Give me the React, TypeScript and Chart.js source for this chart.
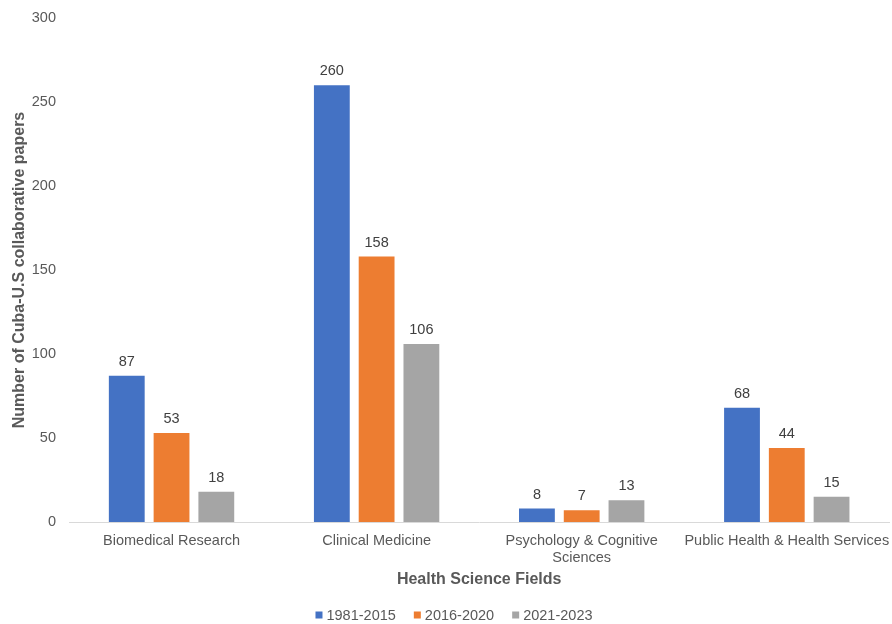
import React, { useEffect, useRef } from "react";
import { Chart, registerables } from "chart.js";

Chart.register(...registerables);

const categories: (string | string[])[] = [
  "Biomedical Research",
  "Clinical Medicine",
  ["Psychology & Cognitive", "Sciences"],
  "Public Health & Health Services",
];
const series1981_2015 = [87, 260, 8, 68];
const series2016_2020 = [53, 158, 7, 44];
const series2021_2023 = [18, 106, 13, 15];
const seriesNames = ["1981-2015", "2016-2020", "2021-2023"];
const seriesColors = ["#4472C4", "#ED7D31", "#A5A5A5"];
const yTicks = [0, 50, 100, 150, 200, 250, 300];

const FONT = "'Liberation Sans', Arial, sans-serif";
const FS = 14.5;

const valueLabels = {
  id: "valueLabels",
  afterDatasetsDraw(chart: any) {
    const ctx = chart.ctx;
    ctx.save();
    ctx.font = `${FS}px ${FONT}`;
    ctx.fillStyle = "#404040";
    ctx.textAlign = "center";
    ctx.textBaseline = "alphabetic";
    chart.data.datasets.forEach((ds: any, i: number) => {
      const meta = chart.getDatasetMeta(i);
      meta.data.forEach((el: any, j: number) => {
        ctx.fillText(String(ds.data[j]), el.x, el.y - 10);
      });
    });
    ctx.restore();
  },
};

const bottomLegend = {
  id: "bottomLegend",
  afterDraw(chart: any) {
    const ctx = chart.ctx;
    ctx.save();
    ctx.font = `${FS}px ${FONT}`;
    ctx.textBaseline = "middle";
    ctx.textAlign = "left";
    const box = 7;
    const gapBoxText = 4;
    const gapItems = 18;
    const items = chart.data.datasets.map((ds: any) => ({
      label: ds.label,
      color: ds.backgroundColor,
      w: box + gapBoxText + ctx.measureText(ds.label).width,
    }));
    const total =
      items.reduce((s: number, it: any) => s + it.w, 0) + gapItems * (items.length - 1);
    let x = 454 - total / 2;
    const y = 615;
    items.forEach((it: any) => {
      ctx.fillStyle = it.color;
      ctx.fillRect(x, y - box / 2, box, box);
      ctx.fillStyle = "#595959";
      ctx.fillText(it.label, x + box + gapBoxText, y + 1);
      x += it.w + gapItems;
    });
    ctx.restore();
  },
};

export default function App() {
  const ref = useRef<HTMLCanvasElement>(null);
  useEffect(() => {
    if (!ref.current) return;
    const chart = new Chart(ref.current, {
      type: "bar",
      data: {
        labels: categories,
        datasets: [
          { label: seriesNames[0], data: series1981_2015, backgroundColor: seriesColors[0] },
          { label: seriesNames[1], data: series2016_2020, backgroundColor: seriesColors[1] },
          { label: seriesNames[2], data: series2021_2023, backgroundColor: seriesColors[2] },
        ],
      },
      options: {
        responsive: false,
        animation: false,
        datasets: { bar: { categoryPercentage: 0.655, barPercentage: 0.8 } },
        layout: { padding: { top: 18, right: 7, left: 0, bottom: 33 } },
        plugins: {
          legend: { display: false },
          tooltip: { enabled: false },
        },
        scales: {
          x: {
            grid: { display: false, drawTicks: false },
            border: { display: true, color: "#D9D9D9", width: 1 },
            ticks: {
              color: "#595959",
              font: { family: FONT, size: FS },
              maxRotation: 0,
              autoSkip: false,
              padding: 10,
            },
            afterFit: (axis: any) => {
              axis.height = 69;
            },
            title: {
              display: true,
              text: "Health Science Fields",
              color: "#595959",
              font: { family: FONT, size: 16, weight: "bold" },
              padding: { top: 2, bottom: 2 },
            },
          },
          y: {
            min: 0,
            max: 300,
            afterBuildTicks: (axis: any) => {
              axis.ticks = yTicks.map((v) => ({ value: v }));
            },
            afterFit: (axis: any) => {
              axis.width = 69;
              axis.paddingTop = 0;
              axis.paddingBottom = 0;
            },
            grid: { display: false, drawTicks: false },
            border: { display: false },
            ticks: {
              color: "#595959",
              font: { family: FONT, size: FS },
              padding: 13,
            },
            title: {
              display: true,
              text: "Number of Cuba-U.S collaborative papers",
              color: "#595959",
              font: { family: FONT, size: 16, weight: "bold" },
              padding: { top: 10, bottom: 4 },
            },
          },
        },
      },
      plugins: [valueLabels, bottomLegend],
    });
    return () => chart.destroy();
  }, []);
  return (
    <div
      style={{
        position: "absolute",
        left: 0,
        top: 0,
        width: 892,
        height: 624,
        overflow: "hidden",
        background: "#fff",
      }}
    >
      <canvas ref={ref} width={900} height={624} />
    </div>
  );
}
